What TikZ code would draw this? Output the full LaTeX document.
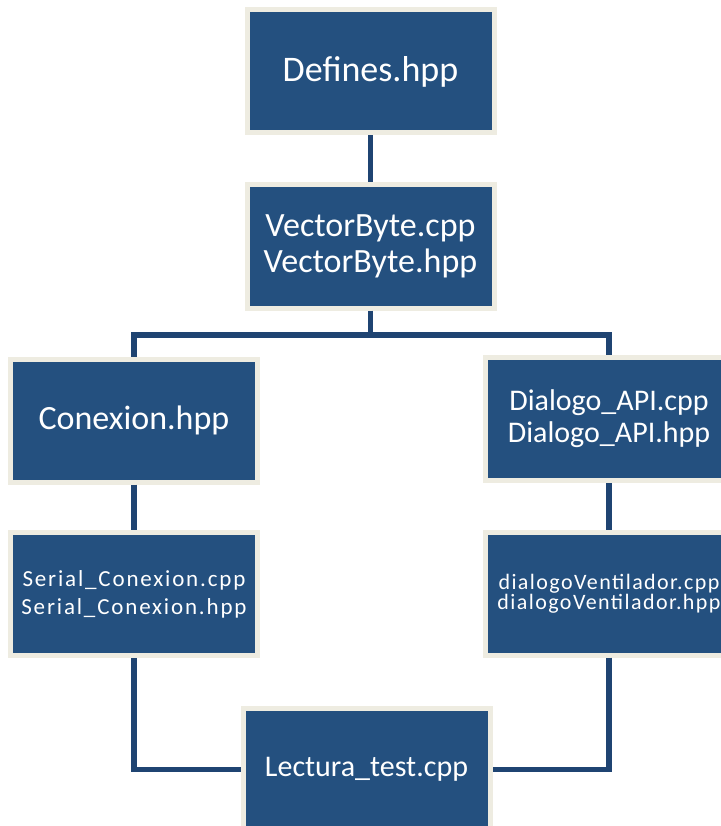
\documentclass[tikz,border=0pt]{standalone}
\usepackage{fontspec}
\setmainfont{Carlito}
\definecolor{boxblue}{HTML}{24507F}
\definecolor{boxrim}{HTML}{EEECE1}
\definecolor{linkblue}{HTML}{1F4472}
\begin{document}
\begin{tikzpicture}[x=1pt,y=-1pt,
  filebox/.style={rectangle, fill=boxblue, draw=boxrim, line width=5pt,
    minimum width=247pt, minimum height=123pt, inner sep=0pt,
    text=white, align=center},
  conn/.style={draw=linkblue, line width=5.5pt}]
\useasboundingbox (0,0) rectangle (720,826);
\fill[white] (0,0) rectangle (720,826);

\node[filebox, font=\fontsize{36}{40}\selectfont] (def) at (370.5,71.5) {Defines.hpp};
\node[filebox, font=\fontsize{34}{36}\selectfont] (vb) at (370.5,246.5) {VectorByte.cpp\\VectorByte.hpp};
\node[filebox, font=\fontsize{34}{36}\selectfont] (con) at (134,420.5) {Conexion.hpp};
\node[filebox, font=\fontsize{30}{32}\selectfont] (dia) at (609,419) {Dialogo\_API.cpp\\Dialogo\_API.hpp};
\node[filebox, font=\fontsize{23}{28}\selectfont\addfontfeature{LetterSpace=8}] (ser) at (134,594) {Serial\_Conexion.cpp\\Serial\_Conexion.hpp};
\node[filebox, font=\fontsize{22}{20}\selectfont\addfontfeature{LetterSpace=6.5}] (dv) at (609,593.5) {dialogoVentilador.cpp\\dialogoVentilador.hpp};
\node[filebox, font=\fontsize{30}{34}\selectfont] (lec) at (366.5,769.5) {Lectura\_test.cpp};

\coordinate (bus) at (370.5,335);
\draw[conn] (def.south) -- (vb.north);
\draw[conn] (vb.south) -- (bus) -| (con.north);
\draw[conn] (bus) -| (dia.north);
\draw[conn] (con.south) -- (ser.north);
\draw[conn] (dia.south) -- (dv.north);
\draw[conn] (ser.south) |- (lec.west);
\draw[conn] (dv.south) |- (lec.east);
\end{tikzpicture}
\end{document}
